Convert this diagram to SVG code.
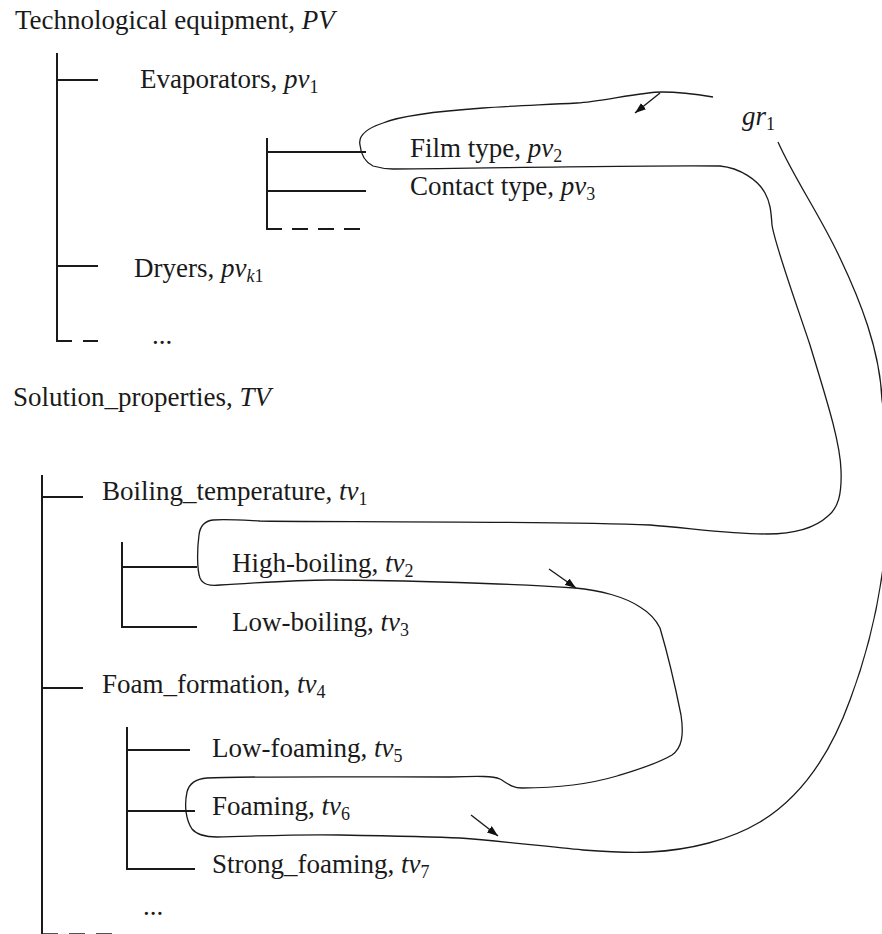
<svg xmlns="http://www.w3.org/2000/svg" width="882" height="934" viewBox="0 0 882 934">
<defs>
<marker id="ah" markerWidth="11" markerHeight="8" refX="11" refY="4" orient="auto" markerUnits="userSpaceOnUse">
<path d="M0,0 L11,4 L0,8 z" fill="#111"/>
</marker>
<style>
text{font-family:"Liberation Serif","Times New Roman",serif;font-size:27px;fill:#1a1a1a}
.it{font-style:italic}
.sub{font-size:18px}
.tree{stroke:#1a1a1a;stroke-width:2;fill:none}
.dash{stroke:#1a1a1a;stroke-width:2;fill:none;stroke-dasharray:16 10}
.curve{stroke:#1a1a1a;stroke-width:1.3;fill:none}
.arr{stroke:#1a1a1a;stroke-width:1.4;fill:none;marker-end:url(#ah)}
</style>
</defs>
<rect width="882" height="934" fill="#fff"/>

<g id="title-pv">
<text x="15" y="29">Technological equipment, <tspan class="it">PV</tspan></text>
</g>

<g id="tree-pv">
<polyline class="tree" points="57,53 57,341 72,341"/>
<line class="tree" x1="83" y1="341" x2="98" y2="341"/>
<line class="tree" x1="57" y1="80" x2="98" y2="80"/>
<line class="tree" x1="57" y1="266" x2="98" y2="266"/>
</g>

<g id="node-pv1">
<text x="140" y="88">Evaporators, <tspan class="it">pv</tspan><tspan class="sub" dy="5">1</tspan></text>
</g>

<g id="tree-pv1">
<line class="tree" x1="267" y1="138" x2="267" y2="229"/>
<line class="tree" x1="267" y1="152" x2="366" y2="152"/>
<line class="tree" x1="267" y1="191" x2="366" y2="191"/>
<line class="dash" x1="266" y1="229" x2="364" y2="229"/>
</g>

<g id="node-pv2">
<text x="410" y="157">Film type, <tspan class="it">pv</tspan><tspan class="sub" dy="5">2</tspan></text>
</g>
<g id="node-pv3">
<text x="410" y="195">Contact type, <tspan class="it">pv</tspan><tspan class="sub" dy="5">3</tspan></text>
</g>
<g id="node-pvk1">
<text x="134" y="277">Dryers, <tspan class="it">pv</tspan><tspan class="sub it" dy="5">k</tspan><tspan class="sub">1</tspan></text>
</g>
<g id="node-pv-more">
<text x="152" y="344">...</text>
</g>

<g id="title-tv">
<text x="13" y="406">Solution_properties, <tspan class="it">TV</tspan></text>
</g>

<g id="tree-tv">
<line class="tree" x1="42" y1="475" x2="42" y2="934"/>
<line class="tree" x1="42" y1="497" x2="83" y2="497"/>
<line class="tree" x1="42" y1="688" x2="83" y2="688"/>
<line stroke="#1a1a1a" stroke-width="1.4" stroke-dasharray="16 11" x1="42" y1="934" x2="112" y2="934"/>
</g>
<g id="tree-tv1">
<polyline class="tree" points="122,542 122,627 197,627"/>
<line class="tree" x1="122" y1="567" x2="197" y2="567"/>
</g>
<g id="tree-tv4">
<polyline class="tree" points="127,727 127,869 195,869"/>
<line class="tree" x1="127" y1="750" x2="190" y2="750"/>
<line class="tree" x1="127" y1="811" x2="195" y2="811"/>
</g>

<g id="node-tv1"><text x="102" y="500">Boiling_temperature, <tspan class="it">tv</tspan><tspan class="sub" dy="5">1</tspan></text></g>
<g id="node-tv2"><text x="232" y="572">High-boiling, <tspan class="it">tv</tspan><tspan class="sub" dy="5">2</tspan></text></g>
<g id="node-tv3"><text x="232" y="631">Low-boiling, <tspan class="it">tv</tspan><tspan class="sub" dy="5">3</tspan></text></g>
<g id="node-tv4"><text x="102" y="693">Foam_formation, <tspan class="it">tv</tspan><tspan class="sub" dy="5">4</tspan></text></g>
<g id="node-tv5"><text x="212" y="757">Low-foaming, <tspan class="it">tv</tspan><tspan class="sub" dy="5">5</tspan></text></g>
<g id="node-tv6"><text x="212" y="815">Foaming, <tspan class="it">tv</tspan><tspan class="sub" dy="5">6</tspan></text></g>
<g id="node-tv7"><text x="212" y="873">Strong_foaming, <tspan class="it">tv</tspan><tspan class="sub" dy="5">7</tspan></text></g>
<g id="node-tv-more"><text x="143" y="915">...</text></g>

<g id="label-gr1"><text x="742" y="125"><tspan class="it">gr</tspan><tspan class="sub" dy="5">1</tspan></text></g>

<g id="connectors">
<path class="curve" d="M713,97 C695,94 680,92 662,92 C640,92 600,102 577,103 C540,105 510,106 483,108 C440,111 400,116 383,123 C365,129 358,136 360,145 C361,155 365,162 373,166 C380,168 387,169 393,169 C500,168 650,165 720,166 C740,168 758,180 765,193 C770,202 771,210 772,225 C775,245 795,300 810,345 C825,395 840,440 841,470 C842,495 838,508 828,516 C815,528 795,534 767,534 C730,534 690,528 650,525 C550,521 300,522 260,521 C240,520 225,519 213,520 C205,521 200,526 199,535 C197,550 197,570 200,578 C203,585 210,586 220,585 C260,583 290,580 330,580 C400,580 520,584 575,588 C600,590 625,597 640,607 C650,613 656,620 660,628 C668,655 676,690 681,715 C684,735 682,748 672,755 C655,765 630,772 617,776 C590,784 560,788 522,788 C512,788 507,783 500,779 C493,776 480,776 450,777 C380,777 240,776 207,778 C195,779 189,784 187,792 C184,806 186,820 192,829 C197,835 207,837 217,837 C260,836 300,834 340,835 C400,836 440,837 460,838 C500,841 540,846 583,850 C610,852 630,853 650,852 C690,850 730,840 760,822 C800,798 830,755 850,700 C865,660 878,610 884,560 C890,500 890,450 882,400 C880,350 860,300 840,258 C820,215 795,180 778,142"/>
<line class="arr" x1="660" y1="93" x2="635" y2="113"/>
<line class="arr" x1="549" y1="569" x2="576" y2="588"/>
<line class="arr" x1="471" y1="815" x2="498" y2="836"/>
</g>
</svg>
